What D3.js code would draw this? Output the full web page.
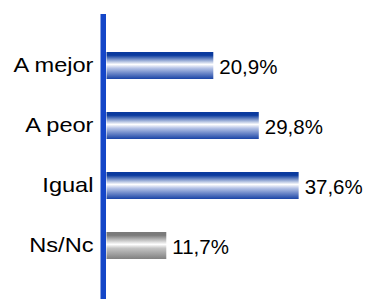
<!DOCTYPE html>
<html>
<head>
<meta charset="utf-8">
<script src="https://cdn.jsdelivr.net/npm/d3@7"></script>
<style>
  html, body { margin: 0; padding: 0; background: #fff; }
  svg { display: block; }
  .lbl { font-family: "Liberation Sans", Arial, sans-serif; fill: #000; }
</style>
</head>
<body>
<div id="chart"></div>
<script>
// chart values
const categories = ["A mejor", "A peor", "Igual", "Ns/Nc"];
const values = [20.9, 29.8, 37.6, 11.7];
const labels = ["20,9%", "29,8%", "37,6%", "11,7%"];

const width = 368, height = 299;

let svg = d3.select("#chart")
    .append("svg")
    .attr("width", width)
    .attr("height", height);

// gradients for bars
let defs = svg.append("defs");
function addGradient(id, top, mid, bottom) {
    let g = defs.append("linearGradient")
        .attr("id", id)
        .attr("x1", 0).attr("y1", 0)
        .attr("x2", 0).attr("y2", 1);
    g.append("stop").attr("offset", "0%").attr("stop-color", top);
    g.append("stop").attr("offset", "12%").attr("stop-color", top);
    g.append("stop").attr("offset", "46%").attr("stop-color", "#ffffff");
    g.append("stop").attr("offset", "60%").attr("stop-color", mid);
    g.append("stop").attr("offset", "100%").attr("stop-color", bottom);
}
addGradient("gradBlue", "#0a3a9e", "#b4c2e6", "#1a44a6");
addGradient("gradGray", "#7a7a7a", "#c4c4c4", "#808080");

// scales
let x = d3.scaleLinear()
    .domain([0, 40])
    .range([106.5, 106.5 + 204.4]);
let y = d3.scalePoint()
    .domain(categories)
    .range([65.5, 245.5]);
const barH = 27;

// bars
svg.selectAll(".bar")
    .data(values)
    .enter()
    .append("rect")
    .attr("class", "bar")
    .attr("x", x(0))
    .attr("y", (d, i) => y(categories[i]) - barH / 2)
    .attr("width", d => x(d) - x(0))
    .attr("height", barH)
    .attr("fill", (d, i) => categories[i] === "Ns/Nc" ? "url(#gradGray)" : "url(#gradBlue)");

// value labels
svg.selectAll(".val")
    .data(values)
    .enter()
    .append("text")
    .attr("class", "val lbl")
    .attr("x", d => x(d) + 6)
    .attr("y", (d, i) => y(categories[i]))
    .attr("dy", "0.42em")
    .style("font-size", "20.5px")
    .text((d, i) => labels[i]);

// category axis (labels a bit wide, as in the original)
svg.append("g")
    .attr("transform", "translate(97,0)")
    .call(d3.axisLeft(y).tickSize(0).tickPadding(3))
    .call(g => g.select(".domain").remove())
    .selectAll("text")
    .attr("class", "lbl")
    .attr("dy", "0.29em")
    .attr("transform", "scale(1.18,1)")
    .style("font-size", "20px");

// thick vertical axis line
svg.append("rect")
    .attr("x", 100.5)
    .attr("y", 14)
    .attr("width", 5.5)
    .attr("height", height - 14)
    .attr("fill", "#1446c8");
</script>
</body>
</html>
